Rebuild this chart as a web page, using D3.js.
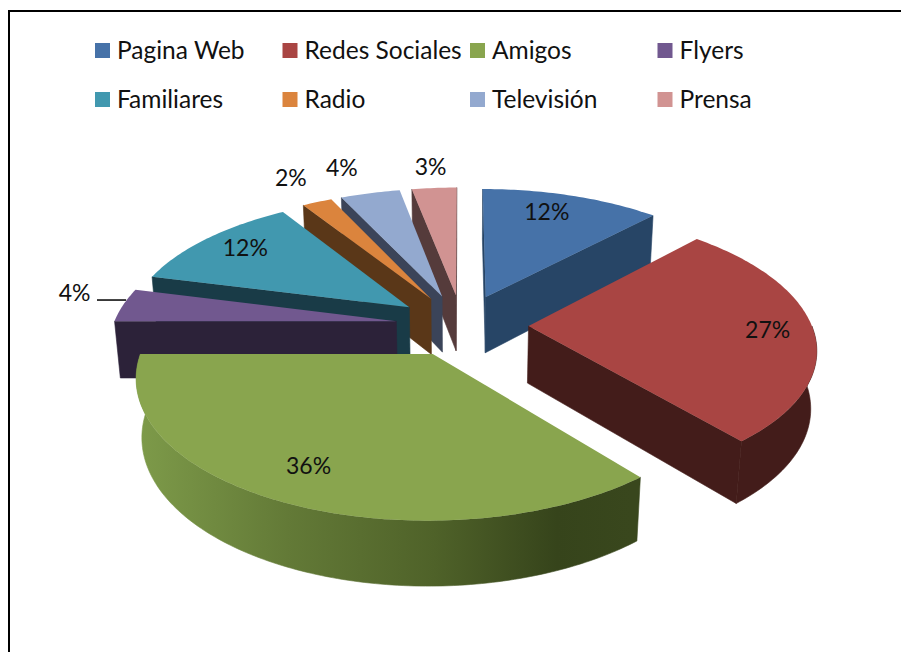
<!DOCTYPE html>
<html>
<head>
<meta charset="utf-8">
<script src="https://cdn.jsdelivr.net/npm/d3@7"></script>
<style>
  html, body { margin: 0; padding: 0; background: #fff; }
  svg { display: block; }
  text { font-family: Lato, "Open Sans", sans-serif; fill: #111; }
</style>
</head>
<body>
<div id="d3-container"></div>
<script>
/**
 * DATA
 * */
const categories = ["Pagina Web", "Redes Sociales", "Amigos", "Flyers", "Familiares", "Radio", "Televisión", "Prensa"];
const values = [12, 27, 36, 4, 12, 2, 4, 3];
const topColors = ["#4672a8", "#a94543", "#89a54e", "#71588f", "#4198af", "#db843d", "#93a9cf", "#d19392"];
const sideColors = ["#274566", "#431c1a", "#37451c", "#2c2239", "#193b47", "#5a3718", "#3b4459", "#553b3b"];
// how far out along the slice each percent label sits (1 = rim)
const labelRadius = [0.72, 0.84, 0.79, 1.17, 0.72, 1.3, 1.2, 1.2];
// small hand corrections of the labels, in pixels
const labelNudge = [[-3, -11], [0, 0], [-10, -2], [-3, -10], [-15, -10], [3, 0], [-16, -8], [0, -4]];

/**
 * CONSTANTS
 * */
const width = 901,
  height = 652,
  center = { x: 462, y: 325 },
  radiusX = 283, // screen size of a unit radius before perspective
  radiusY = 132,
  depth = 58, // pie thickness
  explode = 0.235, // slices pulled out from the middle
  perspectiveV = 0.15,
  perspectiveZ = 0.017;

// pie plane (u to the right, v to the back, z down) => screen
function project(u, v, z) {
  const s = 1 / (1 + perspectiveV * v + perspectiveZ * z);
  return [center.x + radiusX * u * s, center.y + (-radiusY * v + depth * z) * s];
}

// point of a slice at radius r and clockwise angle a, in pie coordinates
function slicePoint(d, r, a) {
  const mid = (d.startAngle + d.endAngle) / 2;
  return [
    explode * Math.sin(mid) + r * Math.sin(a),
    explode * Math.cos(mid) + r * Math.cos(a),
  ];
}

const pie = d3.pie().sort(null);
const slices = pie(values).map((d, i) => ({ ...d, i }));
const line = d3.line();

function angles(a0, a1) {
  const n = Math.max(2, Math.ceil((a1 - a0) * 60));
  return d3.range(n + 1).map(k => a0 + (a1 - a0) * k / n);
}

function topPath(d) {
  const rim = angles(d.startAngle, d.endAngle).map(a => project(...slicePoint(d, 1, a), 0));
  return line([project(...slicePoint(d, 0, 0), 0), ...rim]) + "Z";
}

function wallPoints(d, a) {
  return [
    project(...slicePoint(d, 0, 0), 0),
    project(...slicePoint(d, 1, a), 0),
    project(...slicePoint(d, 1, a), 1),
    project(...slicePoint(d, 0, 0), 1),
  ];
}

// only the part of the outer edge turned to the viewer
function rimPath(d) {
  const a0 = Math.max(d.startAngle, Math.PI / 2);
  const a1 = Math.min(d.endAngle, Math.PI * 1.5);
  if (a1 <= a0) return null;
  const as = angles(a0, a1);
  const top = as.map(a => project(...slicePoint(d, 1, a), 0));
  const bottom = as.slice().reverse().map(a => project(...slicePoint(d, 1, a), 1));
  return line([...top, ...bottom]) + "Z";
}

/**
 * DRAW
 * */
const svg = d3.select("#d3-container")
  .append("svg")
  .attr("width", width)
  .attr("height", height);

svg.append("rect").attr("width", width).attr("height", height).attr("fill", "#fff");

// frame, open on the right and the bottom
svg.append("path")
  .attr("d", line([[9, height], [9, 11], [width, 11]]))
  .attr("fill", "none")
  .attr("stroke", "#000")
  .attr("stroke-width", 2);

// shading along the front of the biggest slice
const grad = svg.append("defs").append("linearGradient")
  .attr("id", "rimGreen")
  .attr("gradientUnits", "userSpaceOnUse")
  .attr("x1", 140).attr("x2", 630).attr("y1", 0).attr("y2", 0);
grad.selectAll("stop")
  .data([[0, "#7d9a49"], [0.3, "#637a37"], [0.6, "#4f6229"], [0.85, "#36441b"], [1, "#39471d"]])
  .join("stop")
  .attr("offset", d => d[0])
  .attr("stop-color", d => d[1]);

// back slices first
const order = slices.slice().sort((a, b) =>
  Math.cos((b.startAngle + b.endAngle) / 2) - Math.cos((a.startAngle + a.endAngle) / 2));

const sliceG = svg.selectAll("g.slice")
  .data(order)
  .join("g")
  .attr("class", "slice");

sliceG.each(function (d) {
  const g = d3.select(this);
  // a start wall shows on the left half of the pie, an end wall on the right half
  [[d.startAngle, 1], [d.endAngle, -1]].forEach(([a, sign]) => {
    const pts = wallPoints(d, a);
    if (d3.polygonArea(pts) * sign <= 0) return;
    g.append("path")
      .attr("d", line(pts) + "Z")
      .attr("fill", sideColors[d.i])
      .attr("stroke", sideColors[d.i])
      .attr("stroke-width", 0.6);
  });
  const rim = rimPath(d);
  if (rim) {
    const rimFill = categories[d.i] === "Amigos" ? "url(#rimGreen)" : sideColors[d.i];
    g.append("path")
      .attr("d", rim)
      .attr("fill", rimFill)
      .attr("stroke", rimFill)
      .attr("stroke-width", 0.6);
  }
  g.append("path")
    .attr("d", topPath(d))
    .attr("fill", topColors[d.i]);
});

// percent labels
svg.selectAll("text.pct")
  .data(slices)
  .join("text")
  .attr("class", "pct")
  .attr("text-anchor", "middle")
  .attr("dominant-baseline", "central")
  .attr("font-size", 23)
  .attr("transform", d => {
    const mid = (d.startAngle + d.endAngle) / 2;
    const [x, y] = project(...slicePoint(d, labelRadius[d.i], mid), 0);
    return `translate(${x + labelNudge[d.i][0]}, ${y + labelNudge[d.i][1]})`;
  })
  .text(d => `${d.data}%`);

// leader line of the Flyers label, stops where it meets the slice
const flyers = slices[3];
const flyersMid = (flyers.startAngle + flyers.endAngle) / 2;
const leaderEnd = project(...slicePoint(flyers, 1, flyersMid), 0);
svg.append("line")
  .attr("x1", 97)
  .attr("x2", leaderEnd[0] + 3)
  .attr("y1", leaderEnd[1] - 5)
  .attr("y2", leaderEnd[1] - 5)
  .attr("stroke", "#000")
  .attr("stroke-width", 1.5);

// legend
const legendX = d3.scaleLinear().domain([0, 1]).range([95, 282.5]);
const legendY = d3.scaleLinear().domain([0, 1]).range([51, 100]);

const legendItems = svg.selectAll("g.legend")
  .data(categories)
  .join("g")
  .attr("class", "legend")
  .attr("transform", (d, i) => `translate(${legendX(i % 4)}, ${legendY(Math.floor(i / 4))})`);

legendItems.append("rect")
  .attr("y", -8)
  .attr("width", 15)
  .attr("height", 15)
  .attr("fill", (d, i) => topColors[i]);

legendItems.append("text")
  .attr("x", 22)
  .attr("y", 8)
  .attr("font-size", 24.5)
  .text(d => d);
</script>
</body>
</html>
